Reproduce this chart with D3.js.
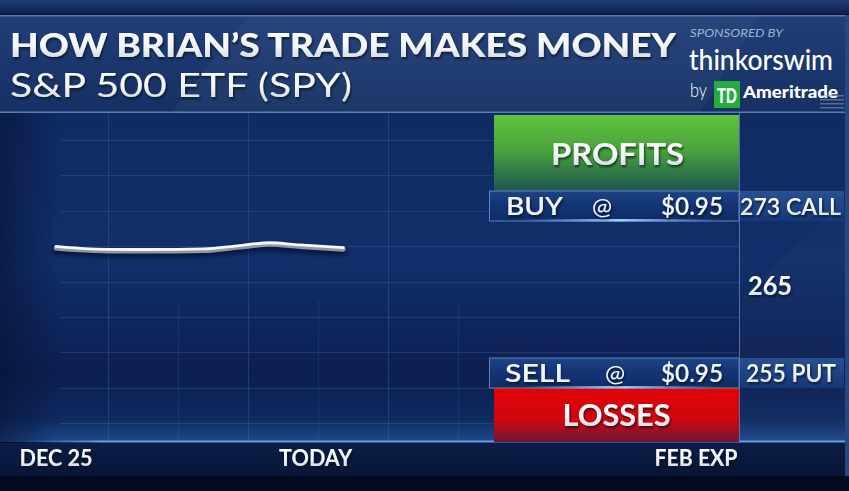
<!DOCTYPE html>
<html>
<head>
<meta charset="utf-8">
<script src="https://cdn.jsdelivr.net/npm/d3@7"></script>
<style>
html,body{margin:0;padding:0;background:#0a1838;}
svg{display:block;}
text{font-family:Lato,"Open Sans",sans-serif;}
</style>
</head>
<body>
<script>
// ---------- data ----------
const priceDays   = [0, 2, 4.4, 7.8, 12.2, 15.2, 17.7, 20.2, 23.8];
const priceValues = [268.64, 268.44, 268.33, 268.31, 268.37, 268.74, 269.04, 268.80, 268.51];
const xTickLabels = ["DEC 25", "TODAY", "FEB EXP"];
const xTickDays   = [0, 21.5, 53];
const strikeLabels = ["273 CALL", "265", "255 PUT"];
const strikeValues = [273, 265, 255];
const legActions = ["BUY", "SELL"];
const legPrices  = ["$0.95", "$0.95"];
const legStrikes = [273, 255];
const titleText = "HOW BRIAN\u2019S TRADE MAKES MONEY";
const subtitleText = "S&P 500 ETF (SPY)";

const W = 849, H = 491;
const chartTop = 113, chartBottom = 442, boxL = 494, boxR = 739;

const x = d3.scaleLinear().domain([0, 53]).range([56, 696]);
const y = d3.scaleLinear().domain([255, 273]).range([373, 206]);

const svg = d3.select("body").append("svg").attr("width", W).attr("height", H);
const defs = svg.append("defs");

function lin(id, stops, x1=0, y1=0, x2=0, y2=1) {
  const g = defs.append("linearGradient").attr("id", id)
    .attr("x1", x1).attr("y1", y1).attr("x2", x2).attr("y2", y2);
  stops.forEach(s => g.append("stop").attr("offset", s[0]).attr("stop-color", s[1]).attr("stop-opacity", s[2] == null ? 1 : s[2]));
}
lin("gTop", [[0, "#223f75"], [1, "#0d1f4a"]]);
lin("gTitle", [[0, "#213f79"], [0.5, "#1a376d"], [1, "#163063"]]);
lin("gChart", [[0, "#0f2b62"], [0.45, "#112f6a"], [0.8, "#0c1f50"], [0.93, "#0f2a60"], [1, "#1d4a8c"]]);
lin("gLeftV", [[0, "#061030", 0.55], [1, "#061030", 0]], 0, 0, 1, 0);
lin("gBottom", [[0, "#0b1d48"], [1, "#081537"]]);
lin("gGreen", [[0, "#5fc43d"], [0.45, "#4aa43b"], [1, "#1d5552"]]);
lin("gRed", [[0, "#e20405"], [0.6, "#cf0610"], [1, "#6e1638"]]);
lin("gBar", [[0, "#1d4486"], [0.5, "#133373"], [1, "#0f2c66"]]);
lin("gLbl", [[0, "#2a5597"], [1, "#16397a"]]);
lin("gTxt", [[0, "#ffffff"], [0.55, "#f3f5f8"], [1, "#c9d1dc"]]);
lin("gGlow", [[0, "#6fb3ff", 0], [0.5, "#9fd0ff", 1], [1, "#6fb3ff", 0]], 0, 0, 1, 0);
lin("gAxisGlow", [[0, "#5b93d8", 0], [0.1, "#6a9fe0", 1], [1, "#6a9fe0", 1]], 0, 0, 1, 0);
const blur = defs.append("filter").attr("id", "blur").attr("x", "-10%").attr("y", "-200%").attr("width", "120%").attr("height", "500%");
blur.append("feGaussianBlur").attr("stdDeviation", 2.5);
const tshadow = defs.append("filter").attr("id", "tsh").attr("x", "-5%").attr("y", "-20%").attr("width", "110%").attr("height", "160%");
tshadow.append("feDropShadow").attr("dx", 1).attr("dy", 2).attr("stdDeviation", 1.2).attr("flood-color", "#020818").attr("flood-opacity", 0.7);

// ---------- background / frame ----------
svg.append("rect").attr("width", W).attr("height", H).attr("fill", "#060f28");
svg.append("rect").attr("x", 0).attr("y", 0).attr("width", W).attr("height", 14).attr("fill", "url(#gTop)");
svg.append("rect").attr("x", 0).attr("y", 15).attr("width", 845).attr("height", 98).attr("fill", "url(#gTitle)");
svg.append("polygon").attr("points", "250,15 760,15 700,113 170,113").attr("fill", "#ffffff").attr("opacity", 0.035);
svg.append("rect").attr("x", 0).attr("y", 15).attr("width", 845).attr("height", 1.5).attr("fill", "#6c8dc4").attr("opacity", 0.8);
svg.append("rect").attr("x", 0).attr("y", 111.5).attr("width", 845).attr("height", 1.5).attr("fill", "#6a8fca").attr("opacity", 0.8);

// chart area
svg.append("rect").attr("x", 0).attr("y", chartTop).attr("width", 845).attr("height", chartBottom - chartTop).attr("fill", "url(#gChart)");
svg.append("rect").attr("x", 0).attr("y", chartTop).attr("width", 60).attr("height", chartBottom - chartTop).attr("fill", "url(#gLeftV)");
svg.append("polygon").attr("points", "739,300 845,200 845,442 739,442").attr("fill", "#ffffff").attr("opacity", 0.02);

// grid
const grid = svg.append("g").attr("stroke", "#4e74b4").attr("stroke-width", 1);
d3.range(140, chartBottom - 5, 35.4).forEach(gy => {
  grid.append("line").attr("x1", 60).attr("x2", boxR).attr("y1", Math.round(gy) + 0.5).attr("y2", Math.round(gy) + 0.5).attr("opacity", 0.28);
});
[108, 248, 388].forEach(gx => grid.append("line").attr("x1", gx + 0.5).attr("x2", gx + 0.5).attr("y1", chartTop).attr("y2", chartBottom).attr("opacity", 0.3));
[178, 318, 458].forEach(gx => grid.append("line").attr("x1", gx + 0.5).attr("x2", gx + 0.5).attr("y1", 300).attr("y2", chartBottom).attr("opacity", 0.18));

// bottom axis glow
svg.append("rect").attr("x", 20).attr("y", 440.5).attr("width", 825).attr("height", 2).attr("fill", "url(#gAxisGlow)");
svg.append("rect").attr("x", 0).attr("y", 443).attr("width", 845).attr("height", 33).attr("fill", "url(#gBottom)");
svg.append("rect").attr("x", 0).attr("y", 476).attr("width", W).attr("height", 15).attr("fill", "#040b20");
svg.append("rect").attr("x", 845).attr("y", 15).attr("width", 4).attr("height", 461).attr("fill", "#27477e");

// vertical line at box right edge
svg.append("line").attr("x1", boxR + 0.5).attr("x2", boxR + 0.5).attr("y1", chartTop).attr("y2", chartBottom).attr("stroke", "#6d8cc0").attr("stroke-opacity", 0.7);

// ---------- profit / loss boxes ----------
const buyTop = y(273) - 15;
const sellBot = y(255) + 15;
svg.append("rect").attr("x", boxL).attr("y", 115).attr("width", boxR - boxL).attr("height", buyTop - 115).attr("fill", "url(#gGreen)");
svg.append("rect").attr("x", boxL).attr("y", sellBot).attr("width", boxR - boxL).attr("height", chartBottom - sellBot).attr("fill", "url(#gRed)");

svg.append("text").attr("x", (boxL + boxR) / 2 + 1).attr("y", 165).attr("text-anchor", "middle")
  .attr("font-size", 31).attr("font-weight", 700).attr("fill", "url(#gTxt)").attr("filter", "url(#tsh)")
  .attr("textLength", 133).attr("lengthAdjust", "spacingAndGlyphs").text("PROFITS");
svg.append("text").attr("x", (boxL + boxR) / 2).attr("y", 426).attr("text-anchor", "middle")
  .attr("font-size", 31).attr("font-weight", 700).attr("fill", "url(#gTxt)").attr("filter", "url(#tsh)")
  .attr("textLength", 108).attr("lengthAdjust", "spacingAndGlyphs").text("LOSSES");

// legs (BUY / SELL bars)
const barFont = "'Open Sans', Lato, sans-serif";
legActions.forEach((act, i) => {
  const cy = y(legStrikes[i]);
  const g = svg.append("g");
  g.append("rect").attr("x", 489.5).attr("y", cy - 15).attr("width", boxR - 489.5).attr("height", 30)
    .attr("fill", "url(#gBar)").attr("stroke", "#5f82bd").attr("stroke-width", 1);
  g.append("rect").attr("x", 520).attr("y", cy + 13).attr("width", 200).attr("height", 2.5).attr("fill", "url(#gGlow)");
  g.append("rect").attr("x", boxR + 1).attr("y", cy - 15).attr("width", 104).attr("height", 30).attr("fill", "url(#gLbl)").attr("opacity", 0.9);
  const base = cy + 9;
  const tx = i === 0 ? 506 : 505;
  g.append("text").attr("x", tx).attr("y", base).attr("font-size", 25).attr("font-weight", 600).attr("font-family", barFont)
    .attr("fill", "#f2f5fa").attr("filter", "url(#tsh)")
    .attr("textLength", i === 0 ? 57 : 65).attr("lengthAdjust", "spacingAndGlyphs").text(act);
  g.append("text").attr("x", i === 0 ? 602 : 615).attr("y", base).attr("text-anchor", "middle").attr("font-size", 24)
    .attr("font-family", barFont).attr("font-weight", 400)
    .attr("fill", "#f2f5fa").attr("filter", "url(#tsh)").text("@");
  g.append("text").attr("x", 723).attr("y", base).attr("text-anchor", "end").attr("font-size", 25).attr("font-weight", 600)
    .attr("font-family", barFont).attr("fill", "#f2f5fa")
    .attr("filter", "url(#tsh)").attr("textLength", 62).attr("lengthAdjust", "spacingAndGlyphs").text(legPrices[i]);
});

// strike labels at right
const strikeLens = [101, 44, 90];
const strikeX = [740, 748, 746];
const strikeSize = [23, 26, 24];
strikeLabels.forEach((lab, i) => {
  const cy = y(strikeValues[i]) + (strikeValues[i] === 265 ? 6 : 0);
  svg.append("text").attr("x", strikeX[i]).attr("y", cy + 9).attr("font-size", strikeSize[i])
    .attr("font-family", barFont).attr("font-weight", strikeValues[i] === 265 ? 700 : 600)
    .attr("fill", "url(#gTxt)").attr("filter", "url(#tsh)")
    .attr("textLength", strikeLens[i]).attr("lengthAdjust", "spacingAndGlyphs").text(lab);
});

// ---------- price line ----------
const pts = priceDays.map((d, i) => [d, priceValues[i]]);
const line = d3.line().x(d => x(d[0])).y(d => y(d[1])).curve(d3.curveMonotoneX);
svg.append("path").attr("d", line(pts)).attr("fill", "none").attr("stroke", "#01081c").attr("stroke-width", 7)
  .attr("stroke-opacity", 0.6).attr("transform", "translate(0,4)").attr("filter", "url(#blur)").attr("stroke-linecap", "round");
svg.append("path").attr("d", line(pts)).attr("fill", "none").attr("stroke", "#8f979f").attr("stroke-width", 4.5)
  .attr("transform", "translate(0,1.8)").attr("stroke-linecap", "round");
svg.append("path").attr("d", line(pts)).attr("fill", "none").attr("stroke", "#f5f7f9").attr("stroke-width", 2.8)
  .attr("stroke-linecap", "round");

// ---------- x axis labels ----------
const xLens = [73, 73, 83];
xTickLabels.forEach((lab, i) => {
  svg.append("text").attr("x", x(xTickDays[i])).attr("y", 466).attr("text-anchor", "middle")
    .attr("font-size", 22).attr("font-weight", 700).attr("fill", "url(#gTxt)").attr("filter", "url(#tsh)")
    .attr("textLength", xLens[i]).attr("lengthAdjust", "spacingAndGlyphs").text(lab);
});

// ---------- titles ----------
svg.append("text").attr("x", 10).attr("y", 57).attr("font-size", 32).attr("font-weight", 900)
  .attr("fill", "url(#gTxt)").attr("filter", "url(#tsh)")
  .attr("textLength", 666).attr("lengthAdjust", "spacingAndGlyphs").text(titleText);
svg.append("text").attr("x", 10).attr("y", 97).attr("font-size", 32).attr("font-weight", 400)
  .attr("fill", "url(#gTxt)").attr("filter", "url(#tsh)")
  .attr("textLength", 342).attr("lengthAdjust", "spacingAndGlyphs").text(subtitleText);

// ---------- sponsor ----------
svg.append("text").attr("x", 690).attr("y", 37).attr("font-size", 11.5).attr("font-style", "italic")
  .attr("fill", "#9fb3d4").attr("textLength", 93).attr("lengthAdjust", "spacingAndGlyphs").text("SPONSORED BY");
svg.append("text").attr("x", 689).attr("y", 70).attr("font-size", 28).attr("font-weight", 500).attr("font-family", "Roboto, sans-serif")
  .attr("fill", "#ffffff").attr("textLength", 144).attr("lengthAdjust", "spacingAndGlyphs").text("thinkorswim");
svg.append("text").attr("x", 690).attr("y", 97).attr("font-size", 20).attr("font-weight", 300)
  .attr("fill", "#ffffff").attr("textLength", 17).attr("lengthAdjust", "spacingAndGlyphs").text("by");
svg.append("rect").attr("x", 714).attr("y", 81).attr("width", 26).attr("height", 27).attr("fill", "#22ad3d");
svg.append("text").attr("x", 727).attr("y", 103).attr("text-anchor", "middle").attr("font-size", 20).attr("font-weight", 900)
  .attr("fill", "#ffffff").attr("textLength", 20).attr("lengthAdjust", "spacingAndGlyphs").text("TD");
svg.append("text").attr("x", 743).attr("y", 98).attr("font-size", 16).attr("font-weight", 900)
  .attr("fill", "#ffffff").attr("textLength", 95).attr("lengthAdjust", "spacingAndGlyphs").text("Ameritrade");
[95, 99, 103, 107].forEach(sy => svg.append("rect").attr("x", 820).attr("y", sy).attr("width", 24).attr("height", 1.5).attr("fill", "#9aa8bd").attr("opacity", 0.5));
</script>
</body>
</html>
